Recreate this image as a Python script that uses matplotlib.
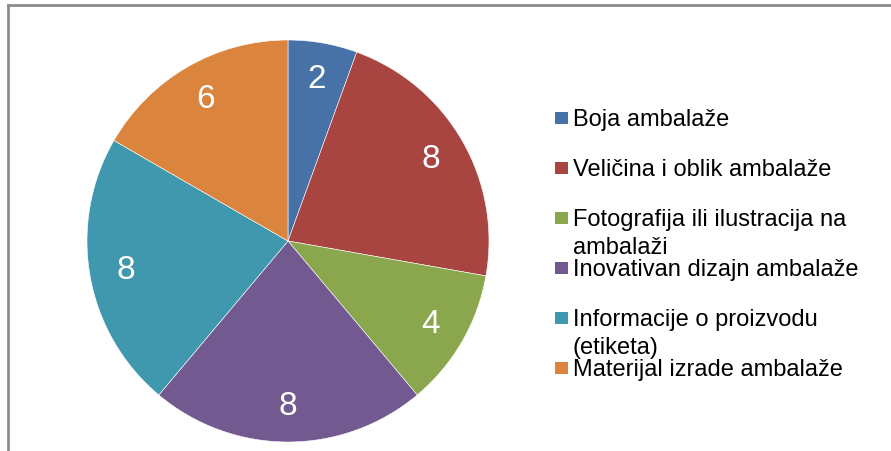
import matplotlib
matplotlib.use("Agg")
import matplotlib.pyplot as plt
from matplotlib.lines import Line2D
from matplotlib.patches import Rectangle

# ---- data ----
labels = [
    "Boja ambalaže",
    "Veličina i oblik ambalaže",
    "Fotografija ili ilustracija na\nambalaži",
    "Inovativan dizajn ambalaže",
    "Informacije o proizvodu\n(etiketa)",
    "Materijal izrade ambalaže",
]
values = [2, 8, 4, 8, 8, 6]
colors = ["#4672A8", "#A94541", "#8BA74E", "#72598F", "#4098AF", "#DA843E"]

W, H = 891, 452
plt.rcParams["font.family"] = ["Liberation Sans", "DejaVu Sans"]

fig = plt.figure(figsize=(W / 100, H / 100), dpi=100)

# pie: centre (288, 242) px, radius 201 px
cx, cy, r = 288, 242, 201
ax = fig.add_axes([(cx - r) / W, (H - cy - r) / H, 2 * r / W, 2 * r / H])
wedges, texts = ax.pie(
    values,
    colors=colors,
    startangle=90,
    counterclock=False,
    labels=[str(v) for v in values],
    labeldistance=0.82,
    wedgeprops=dict(edgecolor="white", linewidth=0.4),
    textprops=dict(color="white", fontsize=24, ha="center", va="center"),
)
ax.set_xlim(-1, 1)
ax.set_ylim(-1, 1)
ax.set_aspect("equal")
ax.axis("off")

# ---- legend drawn by hand (first line aligned with square) ----
x_sq, sq = 555, 13
y0, step = 126, 50   # baseline of first entry, spacing between entries (px)
for i, (lab, col) in enumerate(zip(labels, colors)):
    base = y0 + i * step
    fig.patches.append(Rectangle((x_sq / W, (H - base + 1) / H), sq / W, 12 / H,
                                 transform=fig.transFigure, facecolor=col,
                                 edgecolor="none"))
    for j, line in enumerate(lab.split("\n")):
        fig.text(573 / W, (H - base - j * 28) / H, line, fontsize=17,
                 color="black", ha="left", va="baseline")

# ---- chart frame (left and top edges visible) ----
grey = "#8C8C8C"
fig.add_artist(Line2D([7.5 / W, 7.5 / W], [0, (H - 6) / H], color=grey,
                      linewidth=2, transform=fig.transFigure))
fig.add_artist(Line2D([7.5 / W, 890 / W], [(H - 6) / H, (H - 6) / H],
                      color=grey, linewidth=2, transform=fig.transFigure))

fig.savefig("out.png", dpi=100)
